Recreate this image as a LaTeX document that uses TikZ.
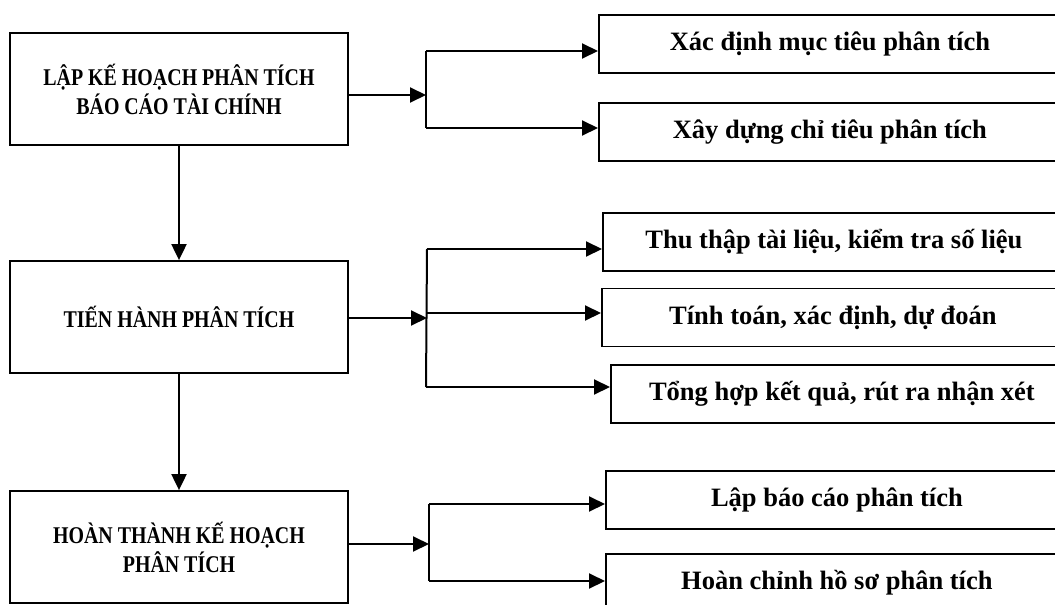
\documentclass[tikz,border=0pt]{standalone}
\usepackage{fontspec}
\setmainfont{Liberation Serif}
\newfontfamily\narrowfont[FakeStretch=0.83]{Liberation Serif}
\usepackage{tikz}
\usetikzlibrary{arrows.meta,positioning}

\begin{document}
\begin{tikzpicture}[x=1pt,y=-1pt,
  mainbox/.style={draw,line width=1.8pt,minimum width=338pt,minimum height=112pt,
              align=center,font=\narrowfont\fontsize{24}{29}\selectfont\bfseries,inner sep=0pt},
  subbox/.style={draw,line width=1.8pt,anchor=west,minimum width=462pt,minimum height=58pt,
              font=\fontsize{26.5}{30}\selectfont\bfseries,inner sep=0pt},
  arr/.style={-{Triangle[length=16pt,width=15pt]},line width=2pt},
  brk/.style={line width=2pt}
]
\useasboundingbox (0,0) rectangle (1055,605);
\clip (0,0) rectangle (1055,605);
% main steps
\node[mainbox] (plan) at (179,89) {LẬP KẾ HOẠCH PHÂN TÍCH\\BÁO CÁO TÀI CHÍNH};
\node[mainbox] (exec) at (179,317) {TIẾN HÀNH PHÂN TÍCH};
\node[mainbox] (done) at (179,547) {HOÀN THÀNH KẾ HOẠCH\\PHÂN TÍCH};
\draw[arr] (plan) -- (exec);
\draw[arr] (exec) -- (done);
% sub steps
\node[subbox] (s1) at (598,44) {Xác định mục tiêu phân tích};
\node[subbox] (s2) at (598,132) {Xây dựng chỉ tiêu phân tích};
\node[subbox] (s3) at (602,242) {Thu thập tài liệu, kiểm tra số liệu};
\node[subbox] (s4) at (601,317.5) {Tính toán, xác định, dự đoán};
\node[subbox] (s5) at (610,394) {Tổng hợp kết quả, rút ra nhận xét};
\node[subbox] (s6) at (605,500) {Lập báo cáo phân tích};
\node[subbox] (s7) at (605,583) {Hoàn chỉnh hồ sơ phân tích};
% brackets
\coordinate (j1) at (426,95);
\coordinate (j1a) at (426,51);
\coordinate (j1b) at (426,128);
\coordinate (j2) at (427,318);
\coordinate (j2a) at (427,249);
\coordinate (j2b) at (427,313);
\coordinate (j2c) at (426,387);
\coordinate (j3) at (429,544);
\coordinate (j3a) at (429,504);
\coordinate (j3b) at (429,581);
\draw[arr] (plan.east |- j1) -- (j1);
\draw[brk] (j1a) -- (j1b);
\draw[arr] (j1a) -- (j1a -| s1.west);
\draw[arr] (j1b) -- (j1b -| s2.west);
\draw[arr] (exec.east |- j2) -- (j2);
\draw[brk] (j2a) -- (j2c);
\draw[arr] (j2a) -- (j2a -| s3.west);
\draw[arr] (j2b) -- (j2b -| s4.west);
\draw[arr] (j2c) -- (j2c -| s5.west);
\draw[arr] (done.east |- j3) -- (j3);
\draw[brk] (j3a) -- (j3b);
\draw[arr] (j3a) -- (j3a -| s6.west);
\draw[arr] (j3b) -- (j3b -| s7.west);
\end{tikzpicture}
\end{document}
